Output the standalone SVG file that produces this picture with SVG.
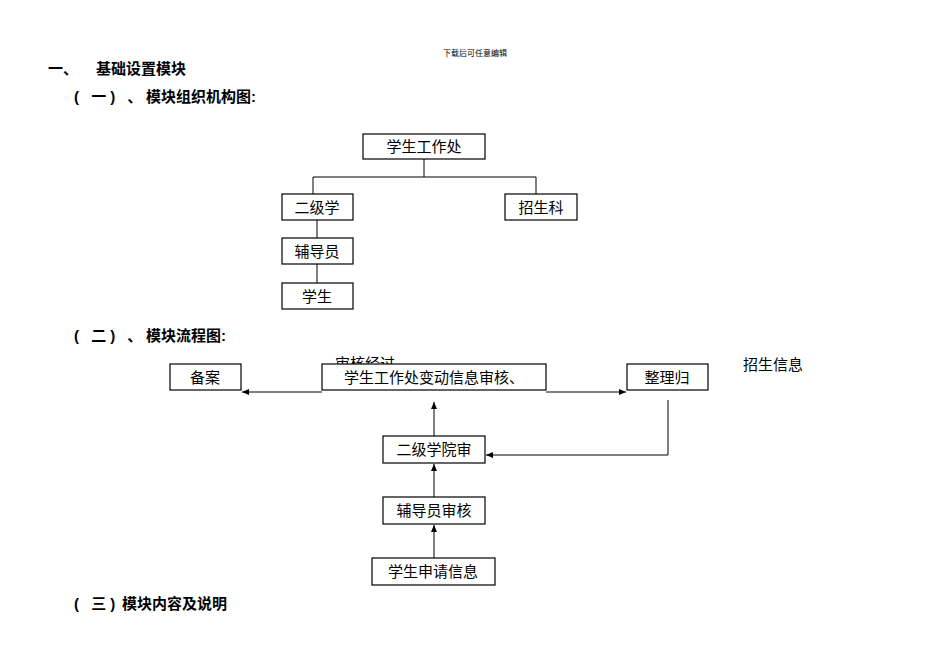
<svg xmlns="http://www.w3.org/2000/svg" width="950" height="672" viewBox="0 0 950 672">
<style>
text{font-family:"Liberation Sans","Noto Sans CJK SC",sans-serif;fill:#000}
.h{font-weight:bold;font-size:15px}
.n rect{fill:#fff;stroke:#000;stroke-width:1.2}
.n text{font-size:15px;text-anchor:middle}
.c{stroke:#000;stroke-width:1;fill:none}
</style>
<defs><marker id="a" markerWidth="8" markerHeight="8" refX="7" refY="4" orient="auto" markerUnits="userSpaceOnUse"><path d="M0,1 L7,4 L0,7z" fill="#000"/></marker></defs>
<text x="475" y="56" font-size="8" text-anchor="middle">下载后可任意编辑</text>
<text class="h" x="48" y="74">一、</text>
<text class="h" x="96" y="74">基础设置模块</text>
<text class="h" x="74" y="102" letter-spacing="4">( 一) 、</text>
<text class="h" x="146" y="102">模块组织机构图:</text>
<text class="h" x="74" y="341" letter-spacing="4">( 二) 、</text>
<text class="h" x="146" y="341">模块流程图:</text>
<text class="h" x="74" y="609" letter-spacing="4">( 三)</text>
<text class="h" x="122" y="609">模块内容及说明</text>
<text x="335" y="369" font-size="15">审核经过</text>
<text x="743" y="370" font-size="15">招生信息</text>
<g id="connectors">
<path class="c" d="M424,159V177M313,177H536M313,177V194M536,177V194M317,220V238M317,264V283"/>
<path class="c" d="M322,392H242" marker-end="url(#a)"/>
<path class="c" d="M546,392H626" marker-end="url(#a)"/>
<path class="c" d="M434,436V402" marker-end="url(#a)"/>
<path class="c" d="M668,400V455H486" marker-end="url(#a)"/>
<path class="c" d="M434,497V464" marker-end="url(#a)"/>
<path class="c" d="M434,558V525" marker-end="url(#a)"/>
</g>
<g id="n1" class="n"><rect x="363" y="134" width="122" height="25"/><text x="424" y="152">学生工作处</text></g>
<g id="n2" class="n"><rect x="282" y="194" width="71" height="26"/><text x="317" y="213">二级学</text></g>
<g id="n3" class="n"><rect x="505" y="194" width="72" height="26"/><text x="541" y="213">招生科</text></g>
<g id="n4" class="n"><rect x="282" y="238" width="71" height="26"/><text x="317" y="257">辅导员</text></g>
<g id="n5" class="n"><rect x="282" y="283" width="71" height="26"/><text x="317" y="302">学生</text></g>
<g id="f1" class="n"><rect x="170" y="364" width="71" height="26"/><text x="205" y="383">备案</text></g>
<g id="f2" class="n"><rect x="322" y="364" width="224" height="26"/><text x="434" y="383">学生工作处变动信息审核、</text></g>
<g id="f3" class="n"><rect x="627" y="364" width="81" height="26"/><text x="667" y="383">整理归</text></g>
<g id="f4" class="n"><rect x="383" y="436" width="102" height="27"/><text x="434" y="455">二级学院审</text></g>
<g id="f5" class="n"><rect x="383" y="497" width="102" height="27"/><text x="434" y="516">辅导员审核</text></g>
<g id="f6" class="n"><rect x="372" y="558" width="123" height="27"/><text x="433" y="577">学生申请信息</text></g>
</svg>
